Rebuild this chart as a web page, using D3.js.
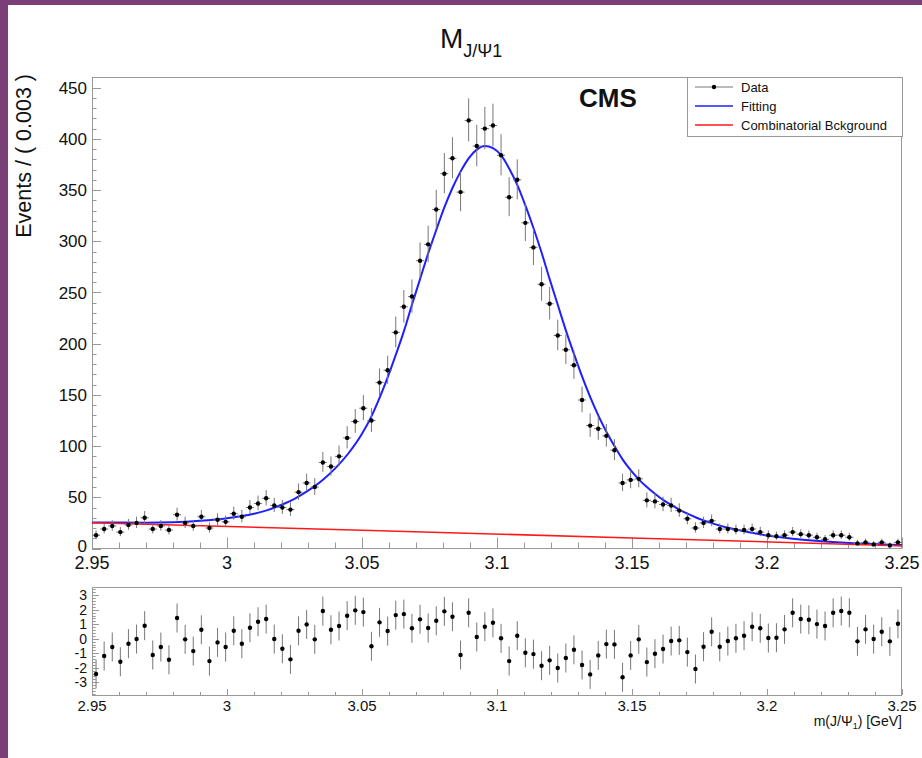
<!DOCTYPE html>
<html><head><meta charset="utf-8">
<script src="https://cdn.jsdelivr.net/npm/d3@7"></script>
<style>
html,body{margin:0;padding:0;background:#fff;}
svg{display:block;}
text{font-family:"Liberation Sans",Arial,Helvetica,sans-serif;fill:#111;}
</style></head><body>
<svg id="c" width="922" height="758"></svg>
<script>
// ---------------- data ----------------
const binLow = 2.95, binWidth = 0.003;
const counts = [13,19,22,16,23,25,30,19,22,18,
  33,25,22,31,20,28,26,34,31,40,
  44,49,42,40,38,55,64,60,84,80,
  90,108,124,137,125,162,174,211,236,246,
  281,297,331,366,381,348,418,393,410,413,
  384,343,360,318,294,258,239,208,194,179,
  145,120,117,110,96,64,67,68,47,46,
  43,42,37,29,20,25,27,19,19,18,
  18,19,16,13,12,13,16,14,13,11,
  9,13,13,11,5,6,4,6,3,6];
const pulls = [-2.43,-1.19,-0.57,-1.59,-0.34,-0.02,0.90,-1.12,-0.57,-1.45,
  1.43,-0.04,-0.85,0.62,-1.54,-0.25,-0.57,0.55,-0.34,0.76,
  1.17,1.36,-0.02,-0.69,-1.42,0.55,0.99,-0.04,1.91,0.62,
  0.88,1.59,1.96,1.84,-0.52,1.13,0.53,1.63,1.70,0.72,
  1.34,0.74,1.24,1.89,1.52,-1.12,1.79,0.12,0.83,1.10,
  0.03,-1.54,0.21,-0.97,-1.06,-1.86,-1.49,-2.02,-1.33,-0.76,
  -1.81,-2.46,-1.15,-0.37,-0.39,-2.66,-1.15,-0.04,-1.61,-1.03,
  -0.71,-0.16,-0.11,-0.92,-2.09,-0.55,0.48,-0.55,-0.16,0.03,
  0.21,0.83,0.72,0.05,0.07,0.65,1.79,1.36,1.31,1.01,
  0.88,1.79,1.91,1.79,-0.18,0.65,-0.02,0.48,-0.18,1.03];
const fitX = [2.950,2.960,2.970,2.980,2.990,3.000,3.005,3.010,3.015,3.020,
  3.025,3.030,3.035,3.040,3.045,3.050,3.0535,3.0565,3.0595,3.0625,
  3.0655,3.0685,3.0715,3.0745,3.0775,3.0805,3.0835,3.0865,3.0895,3.0925,
  3.0955,3.0985,3.1015,3.1045,3.1075,3.1105,3.1135,3.1165,3.1195,3.1225,
  3.1255,3.1285,3.1315,3.1345,3.1375,3.1405,3.1435,3.1465,3.1495,3.1525,
  3.1555,3.1585,3.1615,3.1645,3.1675,3.1705,3.1735,3.1765,3.1795,3.1855,
  3.1915,3.1975,3.2035,3.2095,3.2155,3.2215,3.2275,3.2335,3.2395,3.2455,3.250];
const fitY = [25.5,25.3,25.2,25.6,27.0,29.5,31.5,34.0,37.5,42.5,
  48.5,56.5,66.0,78.0,93.0,112,129,147,167,189,
  212,238,263,288,311,333,352,368,381,389.5,
  393,391,384,371,355,335,313,289,263,238,
  213,190,168,148,130,114,100,87,76.5,67.5,
  60,53.5,47.5,42.5,38,34,30.5,27.5,24.8,20.2,
  16.8,13.8,11.5,9.6,8.1,6.9,5.9,5.0,4.3,3.7,3.3];
const bkgX = [2.95, 3.05, 3.15, 3.25];
const bkgY = [25.2, 17.8, 10.3, 2.6];
const xTicks = [2.95,3.0,3.05,3.1,3.15,3.2,3.25];
const xTickLabels = ["2.95","3","3.05","3.1","3.15","3.2","3.25"];
const yTicks = [0,50,100,150,200,250,300,350,400,450];
const pullTicks = [-3,-2,-1,0,1,2,3];
const legendLabels = ["Data","Fitting","Combinatorial Bckground"];
const titleMain = "M", titleSub = "J/\u03A81";
const yTitle = "Events / ( 0.003 )";

// ---------------- layout ----------------
const svg = d3.select("#c");
const FRAME = "#999", TICK = "#999", ERR = "#777";
const L = 92, R = 902;
const mainTop = 77, mainBot = 548.5;
const lowTop = 587, lowBot = 695;

svg.append("rect").attr("x",0).attr("y",0).attr("width",922).attr("height",5).attr("fill","#7b3f77");
svg.append("rect").attr("x",0).attr("y",0).attr("width",8).attr("height",758).attr("fill","#7b3f77");

const x = d3.scaleLinear().domain([2.95,3.25]).range([L,R]);
const y = d3.scaleLinear().domain([0,460.4]).range([mainBot,mainTop]);
const yp = d3.scaleLinear().domain([-3.88,3.57]).range([lowBot,lowTop]);

const centers = counts.map((c,i)=>binLow + binWidth*(i+0.5));

const defs = svg.append("defs");
defs.append("clipPath").attr("id","clipMain").append("rect")
  .attr("x",L).attr("y",mainTop).attr("width",R-L).attr("height",mainBot-mainTop);

// ---------------- main pad ----------------
svg.append("rect").attr("x",L+0.5).attr("y",mainTop+0.5).attr("width",R-L-1).attr("height",mainBot-mainTop-0.5)
  .attr("fill","none").attr("stroke",FRAME).attr("stroke-width",1);

const minorX = d3.range(0,31).map(k=>2.95+0.01*k);
minorX.forEach((v,k)=>{
  const major = (k%5===0);
  const px = Math.round(x(v))+0.5;
  svg.append("line").attr("x1",px).attr("x2",px).attr("y1",mainBot).attr("y2",mainBot-(major?11:6))
    .attr("stroke",TICK).attr("stroke-width",1);
});
xTicks.forEach((v,k)=>{
  svg.append("text").attr("x",x(v)).attr("y",569).attr("text-anchor","middle")
    .attr("font-size",18).text(xTickLabels[k]);
});
d3.range(0,46).map(k=>k*10).forEach(v=>{
  const major = (v%50===0);
  const py = Math.round(y(v))+0.5;
  svg.append("line").attr("x1",L).attr("x2",L+(major?9:4.5)).attr("y1",py).attr("y2",py)
    .attr("stroke",TICK).attr("stroke-width",1);
});
yTicks.forEach(v=>{
  svg.append("text").attr("x",87).attr("y",y(v) - (v===0?3:0)).attr("dy","0.36em").attr("text-anchor","end")
    .attr("font-size",17).text(String(v));
});
svg.append("text").attr("transform","translate(31,74) rotate(-90)").attr("text-anchor","end")
  .attr("font-size",21.5).text(yTitle);

const gMain = svg.append("g").attr("clip-path","url(#clipMain)");
const fitPts = fitX.map((v,i)=>[v,fitY[i]]);
const bkgPts = bkgX.map((v,i)=>[v,bkgY[i]]);
const lineGen = d3.line().x(d=>x(d[0])).y(d=>y(d[1])).curve(d3.curveMonotoneX);
gMain.append("path").attr("d",lineGen(fitPts)).attr("fill","none").attr("stroke","#1f1fff").attr("stroke-width",2);
gMain.append("path").attr("d",lineGen(bkgPts)).attr("fill","none").attr("stroke","#ff1a1a").attr("stroke-width",1.6);

const halfBin = (x(binLow+binWidth)-x(binLow))/2;
counts.forEach((n,i)=>{
  const cx = x(centers[i]);
  const up = Math.sqrt(n+0.75)+1, dn = n>0?Math.sqrt(n-0.25):0;
  gMain.append("line").attr("x1",cx).attr("x2",cx).attr("y1",y(n+up)).attr("y2",y(n-dn))
    .attr("stroke",ERR).attr("stroke-width",1);
  gMain.append("line").attr("x1",cx-halfBin).attr("x2",cx+halfBin).attr("y1",y(n)).attr("y2",y(n))
    .attr("stroke",ERR).attr("stroke-width",1);
  gMain.append("circle").attr("cx",cx).attr("cy",y(n)).attr("r",2.2).attr("fill","#000");
});

const tt = svg.append("text").attr("x",440).attr("y",48);
tt.append("tspan").attr("font-size",28).text(titleMain);
tt.append("tspan").attr("font-size",18).attr("dy",9).text(titleSub);

svg.append("text").attr("x",579).attr("y",107).attr("font-size",26).attr("font-weight","bold").text("CMS");

svg.append("rect").attr("x",687.5).attr("y",77.5).attr("width",215).attr("height",59)
  .attr("fill","#fff").attr("stroke",FRAME).attr("stroke-width",1);
const legY = [87,106,125];
const legColors = [ERR,"#1f1fff","#ff1a1a"];
legendLabels.forEach((lab,k)=>{
  svg.append("line").attr("x1",695).attr("x2",733).attr("y1",legY[k]).attr("y2",legY[k])
    .attr("stroke",legColors[k]).attr("stroke-width",k===0?1:1.6);
  if(k===0) svg.append("circle").attr("cx",714).attr("cy",legY[k]).attr("r",2.2).attr("fill","#000");
  svg.append("text").attr("x",741).attr("y",legY[k]).attr("dy","0.35em").attr("font-size",13).text(lab);
});

// ---------------- lower pad ----------------
svg.append("rect").attr("x",L+0.5).attr("y",lowTop+0.5).attr("width",R-L-1).attr("height",lowBot-lowTop)
  .attr("fill","none").attr("stroke",FRAME).attr("stroke-width",1);
minorX.forEach((v,k)=>{
  const major = (k%5===0);
  const px = Math.round(x(v))+0.5;
  svg.append("line").attr("x1",px).attr("x2",px).attr("y1",lowBot).attr("y2",lowBot-(major?6:3))
    .attr("stroke",TICK).attr("stroke-width",1);
});
xTicks.forEach((v,k)=>{
  svg.append("text").attr("x",x(v)).attr("y",710.5).attr("text-anchor","middle")
    .attr("font-size",15).text(xTickLabels[k]);
});
d3.range(-19,18).map(k=>k*0.2).forEach(v=>{
  const major = Math.abs(v-Math.round(v))<1e-6;
  const py = Math.round(yp(v))+0.5;
  svg.append("line").attr("x1",L).attr("x2",L+(major?7:3.7)).attr("y1",py).attr("y2",py)
    .attr("stroke",TICK).attr("stroke-width",1);
});
pullTicks.forEach(v=>{
  svg.append("text").attr("x",87).attr("y",yp(v)).attr("dy","0.36em").attr("text-anchor","end")
    .attr("font-size",14).text(String(v));
});
pulls.forEach((p,i)=>{
  const cx = x(centers[i]);
  svg.append("line").attr("x1",cx).attr("x2",cx).attr("y1",yp(p+1)).attr("y2",yp(p-1))
    .attr("stroke",ERR).attr("stroke-width",1);
  svg.append("circle").attr("cx",cx).attr("cy",yp(p)).attr("r",2.2).attr("fill","#000");
});
const xt = svg.append("text").attr("x",902).attr("y",726).attr("text-anchor","end").attr("font-size",14);
xt.append("tspan").text("m(J/\u03A8");
xt.append("tspan").attr("font-size",9).attr("dy",3).text("1");
xt.append("tspan").attr("dy",-3).text(") [GeV]");
</script>
</body></html>
